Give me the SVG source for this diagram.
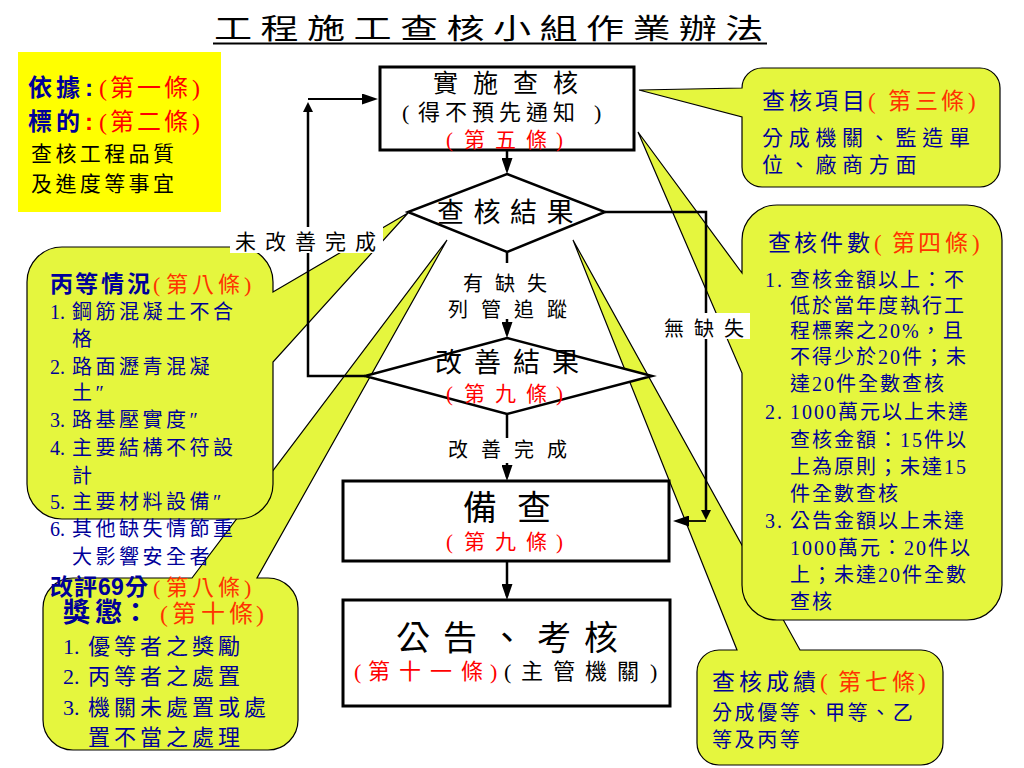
<svg xmlns="http://www.w3.org/2000/svg" width="1024" height="768" viewBox="0 0 1024 768">
<defs>
<marker id="ah" viewBox="0 0 16 11" markerWidth="16" markerHeight="11" refX="12" refY="5.5" orient="auto" markerUnits="userSpaceOnUse"><path d="M0,0 L16,5.5 L0,11 z" fill="#000"/></marker>
<marker id="ah2" viewBox="0 0 10 10" markerWidth="10" markerHeight="10" refX="6" refY="5" orient="auto" markerUnits="userSpaceOnUse"><path d="M0,0 L10,5 L0,10 z" fill="#000"/></marker>
</defs>
<style>
.s{font-family:'Liberation Serif','Noto Sans CJK TC',serif}
.b{font-family:'Liberation Sans','Noto Sans CJK TC',sans-serif;font-weight:bold}
.k{fill:#000}.r{fill:#ff0000}.u{fill:#000099}.o{fill:#ff3300}
.co{fill:#E5F63E;stroke:#000;stroke-width:1.2;stroke-linejoin:miter}
.box{fill:#fff;stroke:#000;stroke-width:3}
.dia{fill:#fff;stroke:#000;stroke-width:2.5}
.ln{fill:none;stroke:#000;stroke-width:2.5}
.bg{fill:#fff;stroke:none}
</style>
<rect width="1024" height="768" fill="#fff"/>

<g id="callout-reward">
<path class="co" d="M73,578 H192 L447,240 L257,578 H268 A30,30 0 0 1 298,608 V720 A30,30 0 0 1 268,750 H73 A30,30 0 0 1 43,720 V608 A30,30 0 0 1 73,578 Z"/>
<text y="622"><tspan class="b u" font-size="27" x="63 95 122">獎懲：</tspan><tspan class="s o" font-size="24" x="160 172 201 229 256">(第十條)</tspan></text>
<g class="s u" font-size="22">
<text x="63" y="654">1.</text><text x="88" y="654" letter-spacing="4">優等者之獎勵</text>
<text x="63" y="684">2.</text><text x="88" y="684" letter-spacing="4">丙等者之處置</text>
<text x="63" y="715">3.</text><text x="88" y="715" letter-spacing="4">機關未處置或處</text>
<text x="88" y="745" letter-spacing="4">置不當之處理</text>
</g>
</g>

<g id="callout-grade-c">
<path class="co" d="M62,247 H238 A35,35 0 0 1 273,282 V292 L408,213 L273,362 V484 A35,35 0 0 1 238,519 H62 A35,35 0 0 1 27,484 V282 A35,35 0 0 1 62,247 Z"/>
<text y="292"><tspan class="b u" font-size="23" x="50 75 101 127">丙等情況</tspan><tspan class="s o" font-size="22" x="153 166 192 218 244">(第八條)</tspan></text>
<g class="s u" font-size="20">
<text x="50" y="319">1.</text><text x="72" y="319" letter-spacing="3.5">鋼筋混凝土不合</text>
<text x="72" y="346" letter-spacing="3.5">格</text>
<text x="50" y="374">2.</text><text x="72" y="374" letter-spacing="3.5">路面瀝青混凝</text>
<text x="72" y="400" letter-spacing="3.5">土″</text>
<text x="50" y="427">3.</text><text x="72" y="427" letter-spacing="3.5">路基壓實度″</text>
<text x="50" y="455">4.</text><text x="72" y="455" letter-spacing="3.5">主要結構不符設</text>
<text x="72" y="483" letter-spacing="3.5">計</text>
<text x="50" y="509">5.</text><text x="72" y="509" letter-spacing="3.5">主要材料設備″</text>
<text x="50" y="536">6.</text><text x="72" y="536" letter-spacing="3.5">其他缺失情節重</text>
<text x="72" y="564" letter-spacing="3.5">大影響安全者</text>
</g>
<text y="595"><tspan class="b u" font-size="23" x="50 74 98 111 125">改評69分</tspan><tspan class="s o" font-size="22" x="153 166 192 218 244">(第八條)</tspan></text>
</g>

<g id="callout-score">
<path class="co" d="M719,650 H737 L573,240 L800,650 H921 A22,22 0 0 1 943,672 V743 A22,22 0 0 1 921,765 H719 A22,22 0 0 1 697,743 V672 A22,22 0 0 1 719,650 Z"/>
<text y="690" font-size="23"><tspan class="s u" x="712 739 766 793">查核成績</tspan><tspan class="s o" x="820 838 865 892 918">(第七條)</tspan></text>
<text class="s u" x="712" y="720" font-size="20" letter-spacing="2.6">分成優等、甲等、乙</text>
<text class="s u" x="712" y="747" font-size="20" letter-spacing="2.6">等及丙等</text>
</g>

<g id="callout-count">
<path class="co" d="M777,205 H967 A35,35 0 0 1 1002,240 V585 A35,35 0 0 1 967,620 H777 A35,35 0 0 1 742,585 V373 L638,132 L742,273 V240 A35,35 0 0 1 777,205 Z"/>
<text y="251" font-size="23"><tspan class="s u" x="768 794 820 847">查核件數</tspan><tspan class="s o" x="874 892 918 945 972">(第四條)</tspan></text>
<g class="s u" font-size="20" letter-spacing="2">
<text x="765" y="287">1.</text><text x="790" y="287">查核金額以上：不</text>
<text x="790" y="313">低於當年度執行工</text>
<text x="790" y="338">程標案之20%，且</text>
<text x="790" y="364">不得少於20件；未</text>
<text x="790" y="391">達20件全數查核</text>
<text x="765" y="419">2.</text><text x="790" y="419">1000萬元以上未達</text>
<text x="790" y="447">查核金額：15件以</text>
<text x="790" y="474">上為原則；未達15</text>
<text x="790" y="501">件全數查核</text>
<text x="765" y="528">3.</text><text x="790" y="528">公告金額以上未達</text>
<text x="790" y="555">1000萬元：20件以</text>
<text x="790" y="582">上；未達20件全數</text>
<text x="790" y="609">查核</text>
</g>
</g>

<g id="callout-items">
<path class="co" d="M762,68 H980 A20,20 0 0 1 1000,88 V167 A20,20 0 0 1 980,187 H762 A20,20 0 0 1 742,167 V117 L639,90 L742,88 A20,20 0 0 1 762,68 Z"/>
<text y="109" font-size="23"><tspan class="s u" x="762 789 815 842">查核項目</tspan><tspan class="s o" x="868 888 915 941 968">(第三條)</tspan></text>
<text class="s u" x="762" y="145" font-size="21" letter-spacing="5.7">分成機關、監造單</text>
<text class="s u" x="762" y="172" font-size="21" letter-spacing="5.7">位、廠商方面</text>
</g>

<g id="basis">
<rect x="18" y="52" width="203" height="160" fill="#FFFF00"/>
<text y="96" font-size="24"><tspan class="b u" x="28 56 85">依據:</tspan><tspan class="s r" x="99 110 137 164 192">(第一條)</tspan></text>
<text y="130" font-size="24"><tspan class="b u" x="28 56">標的</tspan><tspan class="b r" x="85">:</tspan><tspan class="s r" x="99 110 137 164 192">(第二條)</tspan></text>
<text class="s k" x="31" y="161" font-size="21" letter-spacing="3.4">查核工程品質</text>
<text class="s k" x="31" y="191" font-size="21" letter-spacing="3.4">及進度等事宜</text>
</g>

<g id="title">
<text class="s k" font-size="28" transform="translate(214,39) scale(1.36,1)" textLength="404" lengthAdjust="spacing">工程施工查核小組作業辦法</text>
<line x1="213" y1="43.5" x2="767" y2="43.5" stroke="#000" stroke-width="2"/>
</g>

<g id="connectors">
<g class="ln">
<path d="M507,150 V170" marker-end="url(#ah)"/>
<path d="M507,252 V334" marker-end="url(#ah)"/>
<path d="M507,414 V477" marker-end="url(#ah)"/>
<path d="M507,561 V596" marker-end="url(#ah)"/>
<path d="M605,212 H706 V516" marker-end="url(#ah2)"/>
<path d="M706,521 H677" stroke-width="1.8" marker-end="url(#ah)"/>
<path d="M365,376 H308 V106" marker-end="url(#ah2)"/>
<path d="M308,99 H374" stroke-width="2" marker-end="url(#ah)"/>
</g>
<rect class="bg" x="445" y="263" width="125" height="56"/>
<text class="s k" x="463" y="291" font-size="20" letter-spacing="12">有缺失</text>
<text class="s k" x="448" y="317" font-size="20" letter-spacing="13">列管追蹤</text>
<rect class="bg" x="445" y="438" width="125" height="25"/>
<text class="s k" x="448" y="457" font-size="20" letter-spacing="13">改善完成</text>
<rect class="bg" x="230" y="227" width="153" height="26"/>
<text class="s k" x="235" y="249" font-size="21" letter-spacing="9">未改善完成</text>
<rect class="bg" x="662" y="313" width="88" height="26"/>
<text class="s k" x="664" y="336" font-size="20" letter-spacing="10">無缺失</text>
</g>

<g id="node-inspect">
<rect class="box" x="380" y="67" width="254" height="83"/>
<text class="s k" x="433" y="92" font-size="25" letter-spacing="15">實施查核</text>
<text class="s k" y="120" font-size="22" x="402 418 445 472 499 526 553 594">(得不預先通知)</text>
<text class="s r" y="147" font-size="21" x="446 464 495 526 556">(第五條)</text>
</g>

<g id="node-result">
<polygon class="dia" points="507,174 605,212 507,252 408,212"/>
<text class="s k" x="437" y="222" font-size="27" letter-spacing="9.5">查核結果</text>
</g>

<g id="node-improve">
<polygon class="dia" points="507,338 652,376 507,414 365,376"/>
<text class="s k" x="435" y="372" font-size="27" letter-spacing="12">改善結果</text>
<text class="s r" y="401" font-size="21" x="446 464 495 526 556">(第九條)</text>
</g>

<g id="node-record">
<rect class="box" x="343" y="481" width="326" height="80"/>
<text class="s k" x="463" y="520" font-size="34" letter-spacing="20">備查</text>
<text class="s r" y="549" font-size="21" x="446 464 495 526 556">(第九條)</text>
</g>

<g id="node-announce">
<rect class="box" x="343" y="600" width="327" height="106"/>
<text class="s k" x="396" y="650" font-size="34" letter-spacing="13">公告、考核</text>
<text y="679" font-size="22"><tspan class="s r" x="354 368 399 430 461 490">(第十一條)</tspan><tspan class="s k" x="504 521 553 585 617 650">(主管機關)</tspan></text>
</g>
</svg>
